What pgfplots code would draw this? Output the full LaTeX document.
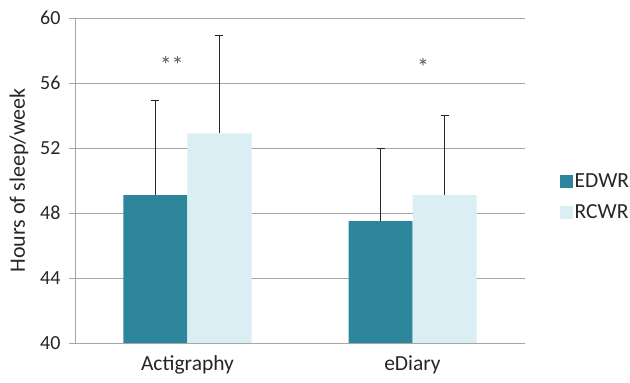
\documentclass[border=0pt]{standalone}
\usepackage{pgfplots}
\pgfplotsset{compat=1.18}
\usepackage{fontspec}
\setmainfont{Carlito}
\definecolor{edwr}{HTML}{2E869C}
\definecolor{rcwr}{HTML}{DBEEF4}
\definecolor{gridc}{HTML}{A6A6A6}
\definecolor{txt}{HTML}{262626}
\begin{document}
\begin{tikzpicture}
\path[use as bounding box] (-75pt,-40pt) rectangle (555pt,343pt);
\begin{axis}[
  scale only axis,
  width=450pt, height=325pt,
  /pgf/number format/assume math mode=true,
  xmin=-0.5, xmax=1.5,
  ymin=40, ymax=60,
  ytick={40,44,48,52,56,60},
  xtick={0,1},
  xticklabels={Actigraphy,eDiary},
  major tick length=6pt,
  x tick style={draw=none},
  extra x ticks={-0.5,0.5,1.5},
  extra x tick labels={},
  extra x tick style={tick style={draw=gridc}},
  y tick style={draw=gridc},
  tick align=outside,
  axis x line*=bottom, axis y line*=left,
  axis line style={draw=gridc, -},
  ymajorgrids, grid style={draw=gridc, line width=0.8pt},
  ybar, bar width=64pt, bar shift=0pt,
  yticklabel style={font=\fontsize{20}{24}\selectfont, text=txt, xshift=-5pt},
  xticklabel style={font=\fontsize{21.5}{25}\selectfont, text=txt, yshift=-3pt},
  ylabel={Hours of sleep/week},
  every axis y label/.style={at={(axis description cs:-0.1244,0.5)}, rotate=90, anchor=center,
    font=\fontsize{22}{26}\selectfont, text=txt},
  legend style={at={(1.07,0.45)}, anchor=west, draw=none, fill=none,
    font=\fontsize{21.5}{25}\selectfont, text=txt, row sep=12pt,
    legend cell align=left},
  legend image code/.code={\fill[#1] (0pt,-6.5pt) rectangle (13pt,6.5pt);},
  error bars/y dir=plus, error bars/y explicit,
  error bars/error bar style={line width=0.9pt, draw=black!85},
  error bars/error mark options={rotate=90, mark size=4pt, line width=0.9pt, draw=black!85},
]
\addplot[fill=edwr, draw=none, bar shift=-32pt] coordinates {(0,49.1) +- (0,5.8) (1,47.5) +- (0,4.5)};
\addplot[fill=rcwr, draw=none, bar shift=32pt] coordinates {(0,52.9) +- (0,6.0) (1,49.1) +- (0,4.9)};
\legend{EDWR,RCWR}
\node[font=\fontsize{24}{28}\selectfont, text=black!65] at (axis cs:-0.07,57.1) {**};
\node[font=\fontsize{24}{28}\selectfont, text=black!65] at (axis cs:1.047,57.0) {*};
\end{axis}
\end{tikzpicture}
\end{document}
